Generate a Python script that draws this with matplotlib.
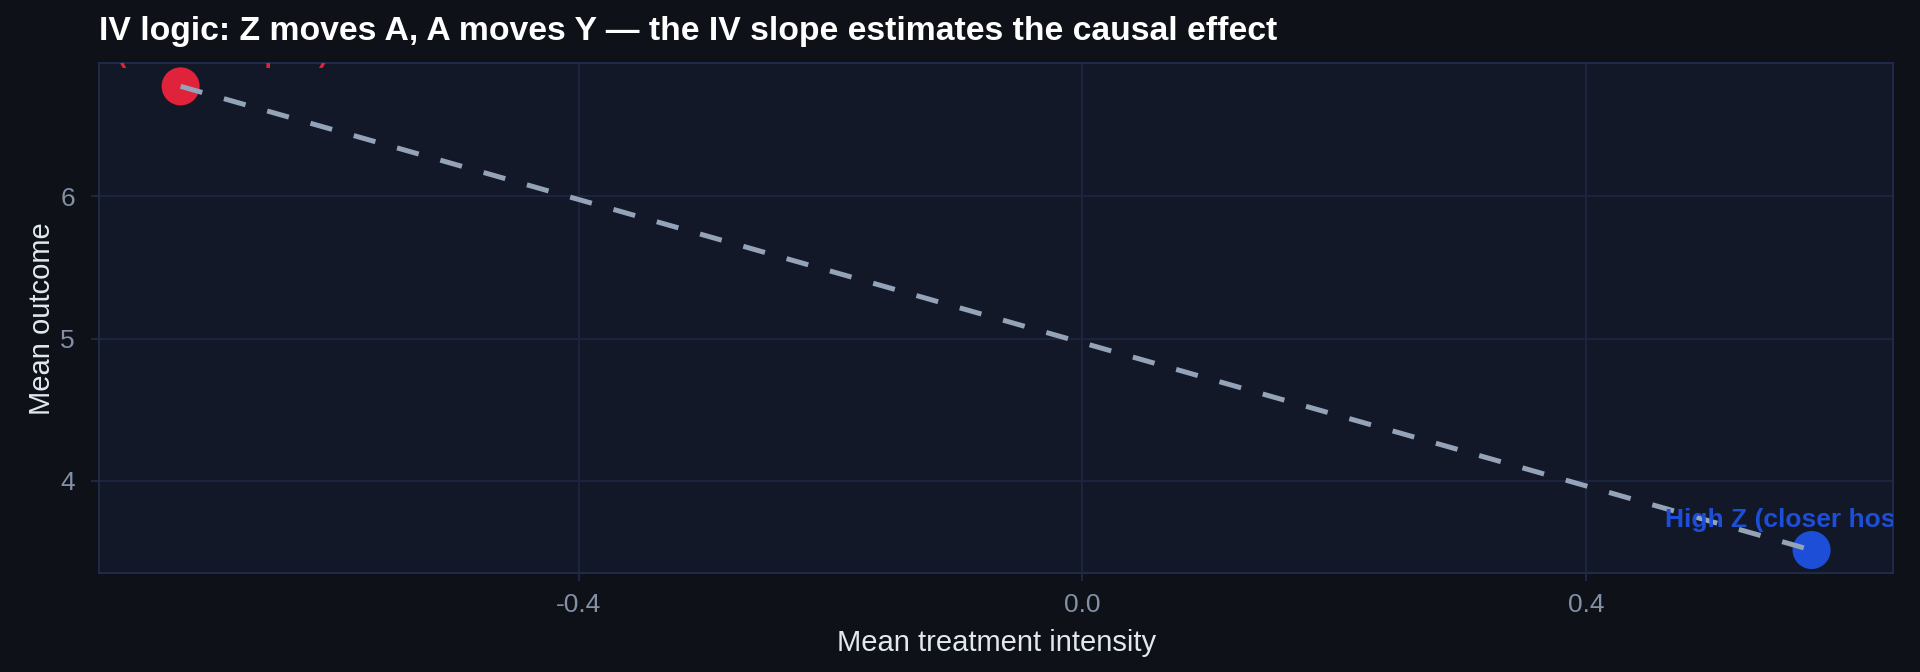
import matplotlib
matplotlib.use("Agg")
import matplotlib.pyplot as plt

# group means
group_labels = ["Low Z (farther hospital)", "High Z (closer hospital)"]
mean_treatment = [-0.716, 0.579]
mean_outcome = [6.775, 3.512]
group_colors = ["#e0223a", "#1d4ed8"]

plt.rcParams["font.family"] = ["Liberation Sans", "DejaVu Sans"]
plt.rcParams["axes.unicode_minus"] = False

fig = plt.figure(figsize=(19.2, 6.72), dpi=100, facecolor="#0e1118")
ax = fig.add_axes([0.0516, 0.147, 0.9344, 0.759])
ax.set_facecolor("#121827")

# scatter of the two instrument groups
ax.scatter(mean_treatment, mean_outcome, s=750, c=group_colors, zorder=3, linewidths=0)

# IV slope between group means
ax.plot(mean_treatment, mean_outcome, color="#94a3b8", lw=3.6,
        linestyle=(0, (4.5, 4.5)), zorder=4)

for lbl, x, y, col in zip(group_labels, mean_treatment, mean_outcome, group_colors):
    ax.annotate(lbl, (x, y), xytext=(0, 13), textcoords="offset points",
                ha="center", va="bottom", color=col, fontsize=19,
                fontweight="bold", clip_on=True, zorder=5)

ax.set_xticks([-0.4, 0.0, 0.4])
ax.set_yticks([4, 5, 6])
ax.set_xticklabels(["-0.4", "0.0", "0.4"])
ax.grid(True, color="#1c2542", lw=1.3, zorder=0)
ax.set_axisbelow(True)
for sp in ax.spines.values():
    sp.set_color("#1f2a48")
    sp.set_linewidth(1.5)
ax.tick_params(axis="both", colors="#1f2a48", labelcolor="#8390a6",
               labelsize=19, length=6, width=1.3)
ax.tick_params(axis="x", pad=8.5)
ax.tick_params(axis="y", pad=11.5)

ax.set_xlabel("Mean treatment intensity", color="#e2e8f0", fontsize=21, labelpad=8.5)
ax.set_ylabel("Mean outcome", color="#e2e8f0", fontsize=21, labelpad=3)
ax.set_title("IV logic: Z moves A, A moves Y \u2014 the IV slope estimates the causal effect",
             loc="left", color="#ffffff", fontsize=24.3, fontweight="bold", pad=17)

fig.savefig("out.png", dpi=100, facecolor=fig.get_facecolor())
